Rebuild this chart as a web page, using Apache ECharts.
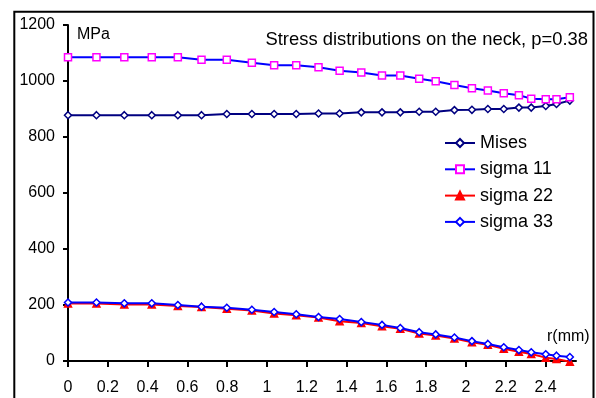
<!DOCTYPE html>
<html>
<head>
<meta charset="utf-8">
<script src="https://cdn.jsdelivr.net/npm/echarts@6/dist/echarts.min.js"></script>
<style>
  html, body { margin: 0; padding: 0; background: #fff; }
  #chart { width: 596px; height: 398px; }
</style>
</head>
<body>
<div id="chart"></div>
<script>
// Radial positions along the neck (mm)
const radius = [0, 0.143, 0.283, 0.421, 0.552, 0.671, 0.798, 0.924, 1.036, 1.147,
  1.259, 1.365, 1.474, 1.578, 1.67, 1.765, 1.848, 1.942, 2.03, 2.11,
  2.19, 2.266, 2.328, 2.401, 2.455, 2.522];

// Stress components (MPa)
const mises = [878, 878, 878, 878, 878, 878, 882, 882, 882, 882,
  884, 884, 888, 888, 888, 890, 890, 896, 897, 900,
  900, 905, 905, 911, 918, 930];
const sigma11 = [1085, 1085, 1085, 1085, 1085, 1076, 1076, 1065, 1056, 1056,
  1049, 1037, 1030, 1020, 1020, 1008, 999, 986, 974, 966,
  956, 949, 937, 935, 935, 942];
const sigma22 = [205, 205, 202, 202, 196, 193, 187, 180, 170, 163,
  155, 142, 136, 124, 115, 98, 91, 80, 67, 58,
  44, 33, 25, 12, 7, -3];
const sigma33 = [209, 209, 206, 206, 200, 194, 190, 183, 175, 167,
  157, 150, 139, 129, 118, 103, 95, 84, 71, 61,
  49, 39, 31, 24, 19, 14];

const xTicks = [0, 0.2, 0.4, 0.6, 0.8, 1, 1.2, 1.4, 1.6, 1.8, 2, 2.2, 2.4];
const yTicks = [0, 200, 400, 600, 800, 1000, 1200];

const FONT = '"Liberation Sans", Arial, sans-serif';

function pairs(values) {
  return radius.map((r, i) => [r, values[i]]);
}

function series(name, values, lineColor, symbol, fill, border, size) {
  return {
    name: name,
    type: 'line',
    data: pairs(values),
    clip: false,
    symbol: symbol,
    symbolSize: size,
    lineStyle: { color: lineColor, width: 2 },
    itemStyle: { color: fill, borderColor: border, borderWidth: 1.5 },
    emphasis: { disabled: true },
    animation: false
  };
}

const chart = echarts.init(document.getElementById('chart'), null, { renderer: 'canvas' });

chart.setOption({
  backgroundColor: '#fff',
  animation: false,
  title: {
    text: 'Stress distributions on the neck, p=0.38',
    right: 8,
    top: 31,
    padding: 0,
    textStyle: { fontFamily: FONT, fontSize: 18.4, fontWeight: 'normal', color: '#000' }
  },
  legend: {
    orient: 'vertical',
    left: 444,
    top: 134,
    padding: 0,
    itemWidth: 30,
    itemHeight: 10,
    itemGap: 8.3,
    textStyle: { fontFamily: FONT, fontSize: 18, color: '#000', lineHeight: 18 },
    data: ['Mises', 'sigma 11', 'sigma 22', 'sigma 33']
  },
  grid: { left: 68, top: 25, right: 20, bottom: 37, containLabel: false },
  xAxis: {
    type: 'value',
    min: 0,
    max: 2.553,
    axisLine: { lineStyle: { color: '#000', width: 2 } },
    axisTick: { show: true, length: 6, lineStyle: { color: '#000', width: 2 }, customValues: xTicks },
    axisLabel: { fontFamily: FONT, fontSize: 16, color: '#000', margin: 19, customValues: xTicks },
    splitLine: { show: false }
  },
  yAxis: {
    type: 'value',
    min: 0,
    max: 1200,
    interval: 200,
    axisLine: { show: true, lineStyle: { color: '#000', width: 2 } },
    axisTick: { show: true, length: 5, lineStyle: { color: '#000', width: 2 }, customValues: yTicks },
    axisLabel: {
      fontFamily: FONT, fontSize: 16, color: '#000', margin: 13,
      customValues: yTicks,
      formatter: (v) => String(v)
    },
    splitLine: { show: false }
  },
  graphic: [
    {
      type: 'rect',
      shape: { x: 14.3, y: 11.7, width: 579.2, height: 420 },
      style: { fill: 'none', stroke: '#000', lineWidth: 2 },
      silent: true
    },
    {
      type: 'text',
      left: 77,
      top: 27,
      style: { text: 'MPa', fontFamily: FONT, fontSize: 16, fill: '#000' }
    },
    {
      type: 'text',
      left: 547,
      top: 329,
      style: { text: 'r(mm)', fontFamily: FONT, fontSize: 16, fill: '#000' }
    }
  ],
  series: [
    series('Mises', mises, '#000080', 'diamond', '#ffffff', '#000080', 7),
    series('sigma 11', sigma11, '#0000ff', 'rect', '#ffffff', '#ff00ff', 7),
    series('sigma 22', sigma22, '#ff0000', 'triangle', '#ff0000', '#ff0000', 7),
    series('sigma 33', sigma33, '#0000ff', 'diamond', '#ffffff', '#0000ff', 7)
  ]
});
</script>
</body>
</html>
